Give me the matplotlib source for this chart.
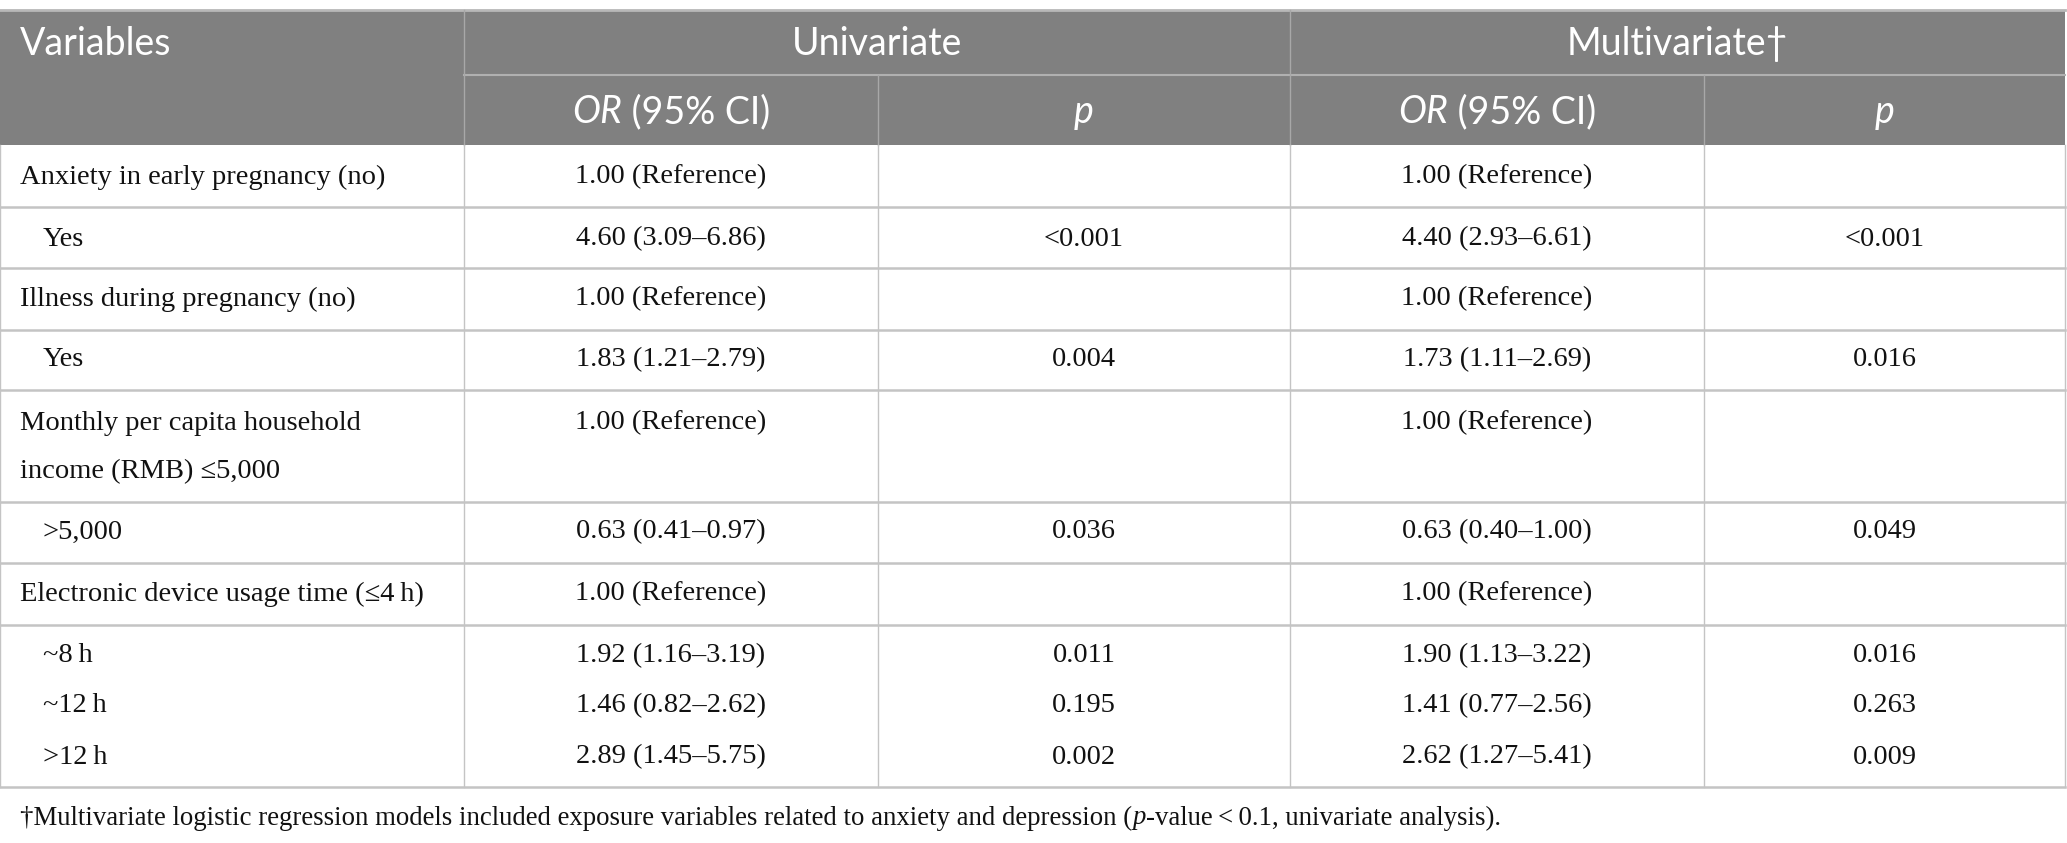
import matplotlib
matplotlib.use("Agg")
import matplotlib.pyplot as plt
from matplotlib.patches import Rectangle

# ---------------- data ----------------
variables = [
    "Anxiety in early pregnancy (no)",
    "Yes",
    "Illness during pregnancy (no)",
    "Yes",
    "Monthly per capita household\nincome (RMB) \u22645,000",
    ">5,000",
    "Electronic device usage time (\u22644\u2009h)",
    "~8\u2009h",
    "~12\u2009h",
    ">12\u2009h",
]
indented = [False, True, False, True, False, True, False, True, True, True]
uni_or = ["1.00 (Reference)", "4.60 (3.09\u20136.86)", "1.00 (Reference)", "1.83 (1.21\u20132.79)",
          "1.00 (Reference)", "0.63 (0.41\u20130.97)", "1.00 (Reference)", "1.92 (1.16\u20133.19)",
          "1.46 (0.82\u20132.62)", "2.89 (1.45\u20135.75)"]
uni_p = ["", "<0.001", "", "0.004", "", "0.036", "", "0.011", "0.195", "0.002"]
multi_or = ["1.00 (Reference)", "4.40 (2.93\u20136.61)", "1.00 (Reference)", "1.73 (1.11\u20132.69)",
            "1.00 (Reference)", "0.63 (0.40\u20131.00)", "1.00 (Reference)", "1.90 (1.13\u20133.22)",
            "1.41 (0.77\u20132.56)", "2.62 (1.27\u20135.41)"]
multi_p = ["", "<0.001", "", "0.016", "", "0.049", "", "0.016", "0.263", "0.009"]
group_headers = ["Univariate", "Multivariate\u2020"]
footnote_parts = [
    ("\u2020Multivariate logistic regression models included exposure variables related to anxiety and depression (", "normal"),
    ("p", "italic"),
    ("-value\u2009<\u20090.1, univariate analysis).", "normal"),
]

# ---------------- layout (pixels) ----------------
W, H = 2067, 843
col_edges = [0, 464, 878, 1290, 1704, 2065]
table_top = 10
head_mid = 75
head_bot = 145
row_lines = [207, 268, 330, 390, 502, 563, 625, 787]
row_y = [177, 239, 299, 360, 423, 532, 594, 656, 706, 757]
foot_y = 818

HEAD_BG = "#808080"
LINE = "#c4c4c4"
SERIF = ["Liberation Serif", "DejaVu Serif"]
SANS = ["Lato", "DejaVu Sans"]
BODY_FS = 20.5
HEAD_FS = 27
TXT = "#111111"

fig = plt.figure(figsize=(W / 100, H / 100), dpi=100)
ax = fig.add_axes([0, 0, 1, 1])
ax.set_xlim(0, W)
ax.set_ylim(H, 0)
ax.axis("off")

# header background
ax.add_patch(Rectangle((0, table_top), col_edges[-1], head_bot - table_top, facecolor=HEAD_BG, edgecolor="none"))
# header lines
ax.plot([0, col_edges[-1]], [table_top, table_top], color="#b8b8b8", lw=2)
ax.plot([col_edges[1], col_edges[-1]], [head_mid, head_mid], color="#b0b0b0", lw=1.5)
for x in [col_edges[1], col_edges[3]]:
    ax.plot([x, x], [table_top, head_bot], color="#a8a8a8", lw=1)
for x in [col_edges[2], col_edges[4]]:
    ax.plot([x, x], [head_mid, head_bot], color="#a8a8a8", lw=1)

# body grid
for y in row_lines:
    ax.plot([0, col_edges[-1]], [y, y], color=LINE, lw=1.8)
for x in col_edges:
    ax.plot([x, x], [head_bot, row_lines[-1]], color=LINE, lw=1)

# header text
ax.text(20, 44, "Variables", ha="left", va="center", color="white", fontsize=HEAD_FS, family=SANS)
for i, g in enumerate(group_headers):
    xc = (col_edges[1 + 2 * i] + col_edges[3 + 2 * i]) / 2
    ax.text(xc, 44, g, ha="center", va="center", color="white", fontsize=HEAD_FS, family=SANS)

fig.canvas.draw()
renderer = fig.canvas.get_renderer()


def runs(x, y, parts, ha, **kw):
    objs = []
    for txt, style in parts:
        t = ax.text(0, y, txt, ha="left", va="center", fontstyle=style, **kw)
        objs.append(t)
    widths = [t.get_window_extent(renderer).width for t in objs]
    total = sum(widths)
    x0 = x - total / 2 if ha == "center" else x
    for t, w in zip(objs, widths):
        t.set_x(x0)
        x0 += w


for i in range(2):
    x_or = (col_edges[1 + 2 * i] + col_edges[2 + 2 * i]) / 2
    x_p = (col_edges[2 + 2 * i] + col_edges[3 + 2 * i]) / 2
    runs(x_or, 112, [("OR", "italic"), (" (95% CI)", "normal")], "center",
         color="white", fontsize=HEAD_FS, family=SANS)
    ax.text(x_p, 112, "p", ha="center", va="center", color="white", fontsize=HEAD_FS,
            family=SANS, fontstyle="italic")

# body text
cols = [uni_or, uni_p, multi_or, multi_p]
for r, y in enumerate(row_y):
    lbl = variables[r]
    if "\n" in lbl:
        l1, l2 = lbl.split("\n")
        ax.text(20, y, l1, ha="left", va="center", fontsize=BODY_FS, family=SERIF, color=TXT)
        ax.text(20, y + 49, l2, ha="left", va="center", fontsize=BODY_FS, family=SERIF, color=TXT)
    else:
        ax.text(43 if indented[r] else 20, y, lbl, ha="left", va="center", fontsize=BODY_FS,
                family=SERIF, color=TXT)
    for c, vals in enumerate(cols):
        xc = (col_edges[c + 1] + col_edges[c + 2]) / 2
        if vals[r]:
            ax.text(xc, y, vals[r], ha="center", va="center", fontsize=BODY_FS, family=SERIF, color=TXT)

# footnote
runs(20, foot_y, footnote_parts, "left", fontsize=19.3, family=SERIF, color=TXT)

fig.savefig("out.png", dpi=100)
